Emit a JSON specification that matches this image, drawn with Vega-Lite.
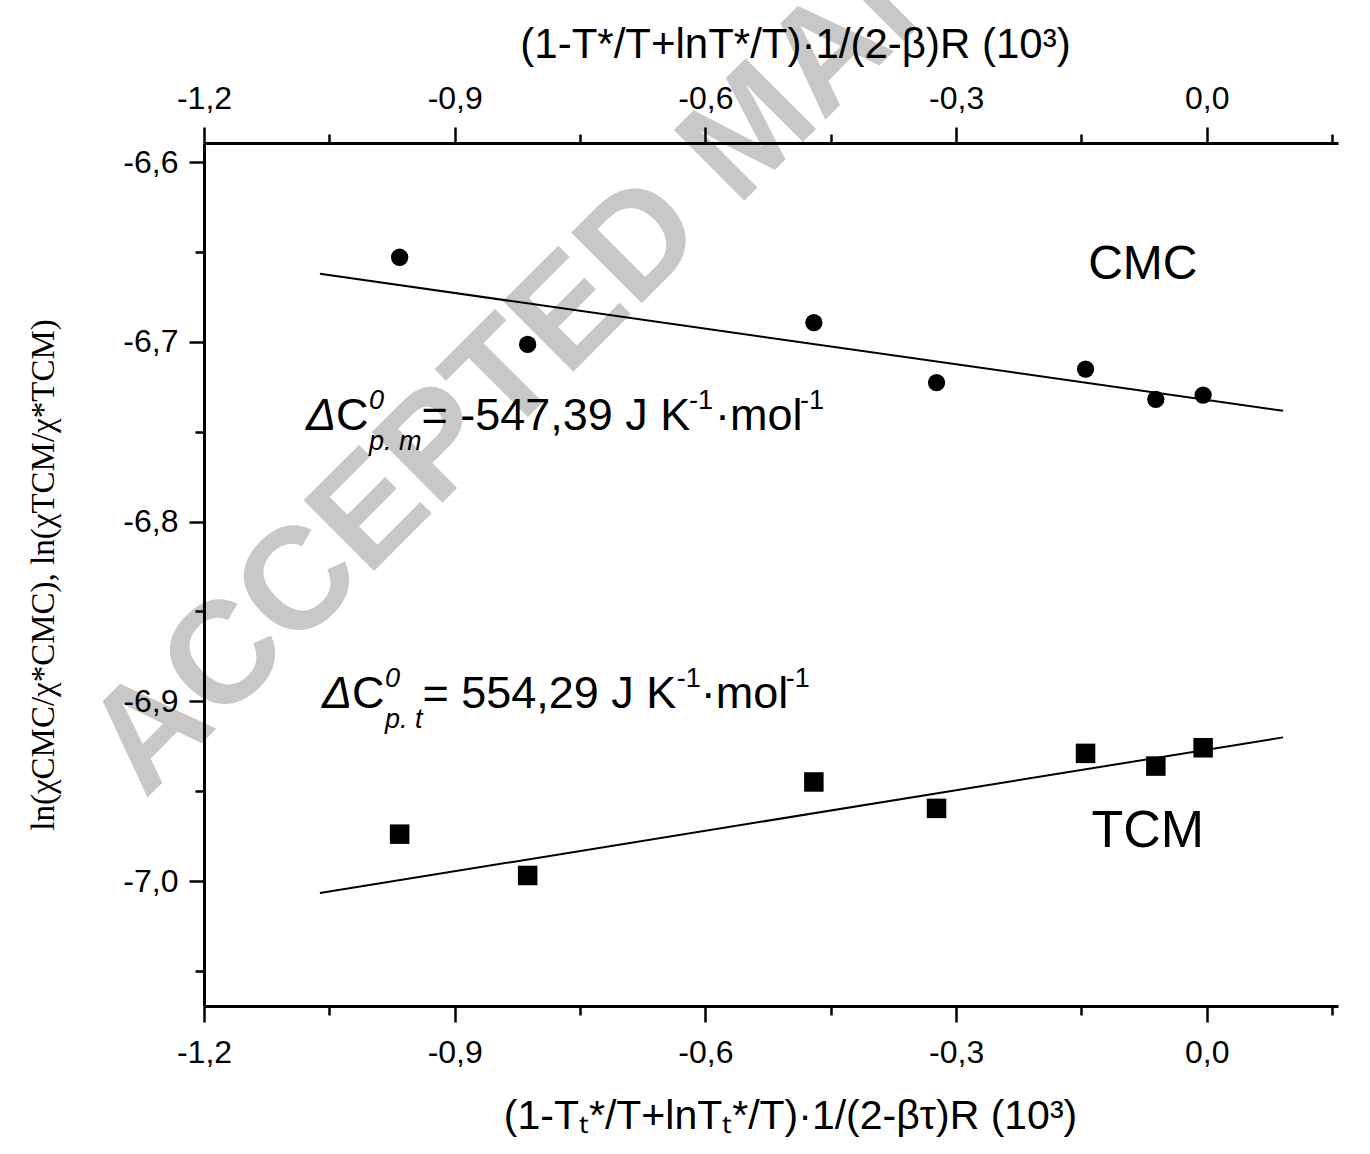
{
  "$schema": "https://vega.github.io/schema/vega-lite/v6.json",
  "width": 1134,
  "height": 863,
  "autosize": {"type": "none"},
  "padding": {"left": 204, "top": 143, "right": 32, "bottom": 148},
  "background": "white",
  "config": {
    "view": {"stroke": null},
    "font": "Liberation Sans",
    "axis": {
      "domainColor": "black",
      "tickColor": "black",
      "labelColor": "black",
      "titleColor": "black",
      "grid": false,
      "labelFlush": false,
      "labelOverlap": false,
      "domainWidth": 3,
      "tickWidth": 2.5,
      "titleFontWeight": "normal"
    }
  },
  "datasets": {
    "points": [
      {"series": "CMC", "x": -0.9659, "y": -6.65296},
      {"series": "CMC", "x": -0.8127, "y": -6.70147},
      {"series": "CMC", "x": -0.4702, "y": -6.68929},
      {"series": "CMC", "x": -0.3234, "y": -6.72267},
      {"series": "CMC", "x": -0.1451, "y": -6.71516},
      {"series": "CMC", "x": -0.061, "y": -6.73202},
      {"series": "CMC", "x": -0.0044, "y": -6.72963},
      {"series": "TCM", "x": -0.9659, "y": -6.97391},
      {"series": "TCM", "x": -0.8127, "y": -6.99689},
      {"series": "TCM", "x": -0.4702, "y": -6.94487},
      {"series": "TCM", "x": -0.3234, "y": -6.95956},
      {"series": "TCM", "x": -0.1451, "y": -6.92896},
      {"series": "TCM", "x": -0.061, "y": -6.93603},
      {"series": "TCM", "x": -0.0044, "y": -6.92584}
    ],
    "fits": [
      {"series": "CMC", "x": -1.0613, "y": -6.6622},
      {"series": "CMC", "x": 0.0913, "y": -6.73836},
      {"series": "TCM", "x": -1.0613, "y": -7.00668},
      {"series": "TCM", "x": 0.0913, "y": -6.92006}
    ],
    "names": [
      {"series": "CMC", "x": -0.0766, "y": -6.6651, "t": "CMC"},
      {"series": "TCM", "x": -0.0706, "y": -6.9811, "t": "TCM"}
    ],
    "watermark": [
      {"x": -1.2706, "y": -6.9549, "t": "ACCEPTED MANUSCRIPT"}
    ],
    "symbol": [
      {"x": -1.078, "y": -6.7491, "t": "Δ"},
      {"x": -1.0588, "y": -6.9038, "t": "Δ"}
    ],
    "body": [
      {"x": -1.0421, "y": -6.7491, "t": "C"},
      {"x": -0.9398, "y": -6.7491, "t": "= -547,39 J K"},
      {"x": -0.5886, "y": -6.7491, "t": "·mol"},
      {"x": -1.0229, "y": -6.9038, "t": "C"},
      {"x": -0.9386, "y": -6.9038, "t": "= 554,29 J K"},
      {"x": -0.6055, "y": -6.9038, "t": "·mol"}
    ],
    "index": [
      {"x": -1.0026, "y": -6.7374, "t": "0"},
      {"x": -1.0026, "y": -6.7602, "t": "p. m"},
      {"x": -0.9834, "y": -6.8921, "t": "0"},
      {"x": -0.9834, "y": -6.9149, "t": "p. t"}
    ],
    "exponent": [
      {"x": -0.6197, "y": -6.7374, "t": "-1"},
      {"x": -0.4869, "y": -6.7374, "t": "-1"},
      {"x": -0.6342, "y": -6.8921, "t": "-1"},
      {"x": -0.5038, "y": -6.8921, "t": "-1"}
    ]
  },
  "resolve": {"axis": {"x": "independent", "y": "independent"}},
  "layer": [
    {
      "data": {"name": "watermark"},
      "mark": {"type": "text", "align": "left", "baseline": "alphabetic", "angle": -45, "fontSize": 145, "fontWeight": "bold", "color": "#c8c8c8"},
      "encoding": {
        "x": {"field": "x", "type": "quantitative", "axis": null, "scale": {"domain": [-1.2, 0.157], "nice": false, "zero": false}},
        "y": {"field": "y", "type": "quantitative", "axis": null, "scale": {"domain": [-7.0695, -6.5894], "nice": false, "zero": false}},
        "text": {"field": "t"}
      }
    },
    {
      "data": {"name": "fits"},
      "mark": {"type": "line", "color": "black", "strokeWidth": 2},
      "encoding": {
        "x": {
          "field": "x", "type": "quantitative",
          "scale": {"domain": [-1.2, 0.157], "nice": false, "zero": false},
          "axis": {
            "orient": "bottom",
            "zindex": 2,
            "values": [-1.2, -0.9, -0.6, -0.3, 0],
            "format": ".1f",
            "labelExpr": "replace(replace(datum.label, '.', ','), '\u2212', '-')",
            "labelFontSize": 32,
            "labelPadding": 15,
            "tickSize": 16,
            "title": "(1-Tₜ*/T+lnTₜ*/T)·1/(2-βτ)R (10³)",
            "titleFontSize": 41,
            "titlePadding": 28,
            "titleX": 586
          }
        },
        "y": {
          "field": "y", "type": "quantitative",
          "scale": {"domain": [-7.0695, -6.5894], "nice": false, "zero": false},
          "axis": {
            "orient": "left",
            "zindex": 2,
            "values": [-7, -6.9, -6.8, -6.7, -6.6],
            "format": ".1f",
            "labelExpr": "replace(replace(datum.label, '.', ','), '\u2212', '-')",
            "labelFontSize": 32,
            "labelPadding": 11,
            "tickSize": 15,
            "title": "ln(χCMC/χ*CMC), ln(χTCM/χ*TCM)",
            "titleFont": "Liberation Serif",
            "titleFontSize": 33,
            "titlePadding": 62
          }
        },
        "detail": {"field": "series"}
      }
    },
    {
      "data": {"name": "points"},
      "transform": [{"filter": "datum.series === 'CMC'"}],
      "mark": {"type": "circle", "size": 300, "color": "black", "opacity": 1},
      "encoding": {
        "x": {
          "field": "x", "type": "quantitative",
          "scale": {"domain": [-1.2, 0.157], "nice": false, "zero": false},
          "axis": {
            "orient": "top",
            "zindex": 2,
            "values": [-1.2, -0.9, -0.6, -0.3, 0],
            "format": ".1f",
            "labelExpr": "replace(replace(datum.label, '.', ','), '\u2212', '-')",
            "labelFontSize": 32,
            "labelPadding": 12,
            "tickSize": 16,
            "title": "(1-T*/T+lnT*/T)·1/(2-β)R (10³)",
            "titleFontSize": 42,
            "titlePadding": 16,
            "titleX": 591
          }
        },
        "y": {
          "field": "y", "type": "quantitative",
          "scale": {"domain": [-7.0695, -6.5894], "nice": false, "zero": false},
          "axis": {
            "orient": "left",
            "zindex": 2,
            "values": [-7.05, -6.95, -6.85, -6.75, -6.65],
            "labels": false,
            "domain": false,
            "tickSize": 9,
            "title": null
          }
        }
      }
    },
    {
      "data": {"name": "points"},
      "transform": [{"filter": "datum.series === 'TCM'"}],
      "mark": {"type": "square", "size": 380, "color": "black", "opacity": 1},
      "encoding": {
        "x": {
          "field": "x", "type": "quantitative",
          "scale": {"domain": [-1.2, 0.157], "nice": false, "zero": false},
          "axis": {
            "orient": "bottom",
            "zindex": 2,
            "values": [-1.05, -0.75, -0.45, -0.15, 0.15],
            "labels": false,
            "domain": false,
            "tickSize": 9,
            "title": null
          }
        },
        "y": {"field": "y", "type": "quantitative", "axis": null, "scale": {"domain": [-7.0695, -6.5894], "nice": false, "zero": false}}
      }
    },
    {
      "data": {"name": "names"},
      "transform": [{"filter": "datum.series === 'CMC'"}],
      "mark": {"type": "text", "align": "center", "baseline": "alphabetic", "fontSize": 48, "color": "black"},
      "encoding": {
        "x": {
          "field": "x", "type": "quantitative",
          "scale": {"domain": [-1.2, 0.157], "nice": false, "zero": false},
          "axis": {
            "orient": "top",
            "zindex": 2,
            "values": [-1.05, -0.75, -0.45, -0.15, 0.15],
            "labels": false,
            "domain": false,
            "tickSize": 9,
            "title": null
          }
        },
        "y": {"field": "y", "type": "quantitative", "axis": null, "scale": {"domain": [-7.0695, -6.5894], "nice": false, "zero": false}},
        "text": {"field": "t"}
      }
    },
    {
      "data": {"name": "names"},
      "transform": [{"filter": "datum.series === 'TCM'"}],
      "mark": {"type": "text", "align": "center", "baseline": "alphabetic", "fontSize": 52, "color": "black"},
      "encoding": {
        "x": {"field": "x", "type": "quantitative", "axis": null, "scale": {"domain": [-1.2, 0.157], "nice": false, "zero": false}},
        "y": {"field": "y", "type": "quantitative", "axis": null, "scale": {"domain": [-7.0695, -6.5894], "nice": false, "zero": false}},
        "text": {"field": "t"}
      }
    },
    {
      "data": {"name": "symbol"},
      "mark": {"type": "text", "align": "left", "baseline": "alphabetic", "fontSize": 45, "fontStyle": "italic", "color": "black"},
      "encoding": {
        "x": {"field": "x", "type": "quantitative", "axis": null, "scale": {"domain": [-1.2, 0.157], "nice": false, "zero": false}},
        "y": {"field": "y", "type": "quantitative", "axis": null, "scale": {"domain": [-7.0695, -6.5894], "nice": false, "zero": false}},
        "text": {"field": "t"}
      }
    },
    {
      "data": {"name": "body"},
      "mark": {"type": "text", "align": "left", "baseline": "alphabetic", "fontSize": 45, "color": "black"},
      "encoding": {
        "x": {"field": "x", "type": "quantitative", "axis": null, "scale": {"domain": [-1.2, 0.157], "nice": false, "zero": false}},
        "y": {"field": "y", "type": "quantitative", "axis": null, "scale": {"domain": [-7.0695, -6.5894], "nice": false, "zero": false}},
        "text": {"field": "t"}
      }
    },
    {
      "data": {"name": "index"},
      "mark": {"type": "text", "align": "left", "baseline": "alphabetic", "fontSize": 27, "fontStyle": "italic", "color": "black"},
      "encoding": {
        "x": {"field": "x", "type": "quantitative", "axis": null, "scale": {"domain": [-1.2, 0.157], "nice": false, "zero": false}},
        "y": {"field": "y", "type": "quantitative", "axis": null, "scale": {"domain": [-7.0695, -6.5894], "nice": false, "zero": false}},
        "text": {"field": "t"}
      }
    },
    {
      "data": {"name": "exponent"},
      "mark": {"type": "text", "align": "left", "baseline": "alphabetic", "fontSize": 27, "color": "black"},
      "encoding": {
        "x": {"field": "x", "type": "quantitative", "axis": null, "scale": {"domain": [-1.2, 0.157], "nice": false, "zero": false}},
        "y": {"field": "y", "type": "quantitative", "axis": null, "scale": {"domain": [-7.0695, -6.5894], "nice": false, "zero": false}},
        "text": {"field": "t"}
      }
    }
  ]
}
